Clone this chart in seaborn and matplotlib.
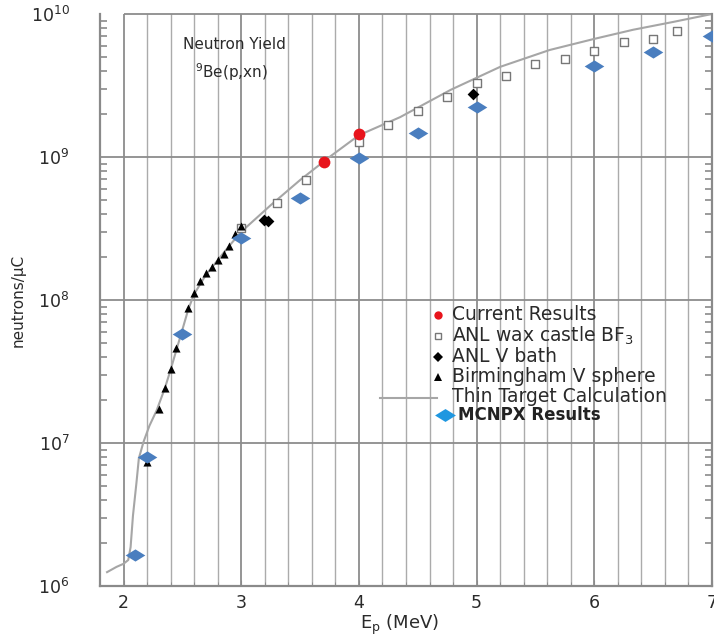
import numpy as np
import pandas as pd
import matplotlib
matplotlib.use("Agg")
import matplotlib.pyplot as plt
from matplotlib.markers import MarkerStyle
from matplotlib.ticker import FixedLocator, LogLocator, NullFormatter
import seaborn as sns

# ---------------- data ----------------
thin_E = [1.86, 1.94, 2.00, 2.04, 2.06, 2.08, 2.11, 2.13, 2.17, 2.22, 2.28, 2.35,
          2.40, 2.45, 2.50, 2.55, 2.60, 2.70, 2.80, 2.90, 3.00, 3.25, 3.50, 3.75,
          4.00, 4.35, 4.78, 5.20, 5.62, 6.00, 6.33, 6.67, 7.00]
thin_Y = [1.25e6, 1.36e6, 1.43e6, 1.52e6, 1.87e6, 3.1e6, 5.3e6, 7.8e6, 1.02e7, 1.32e7,
          1.68e7, 2.4e7, 3.25e7, 4.5e7, 6.2e7, 8.6e7, 1.1e8, 1.5e8, 1.9e8, 2.4e8,
          3.0e8, 4.6e8, 6.9e8, 1.0e9, 1.42e9, 1.9e9, 2.95e9, 4.27e9, 5.6e9, 6.7e9,
          7.76e9, 8.8e9, 1.0e10]

mcnpx_E = [2.1, 2.2, 2.5, 3.0, 3.5, 4.0, 4.5, 5.0, 6.0, 6.5, 7.0]
mcnpx_Y = [1.65e6, 7.95e6, 5.8e7, 2.7e8, 5.2e8, 9.8e8, 1.48e9, 2.24e9, 4.3e9, 5.4e9, 7.0e9]

current_E = [3.7, 4.0]
current_Y = [9.2e8, 1.45e9]

wax_E = [3.0, 3.3, 3.55, 4.0, 4.25, 4.5, 4.75, 5.0, 5.25, 5.5, 5.75, 6.0, 6.25, 6.5, 6.7]
wax_Y = [3.2e8, 4.77e8, 6.9e8, 1.27e9, 1.67e9, 2.1e9, 2.63e9, 3.29e9, 3.68e9, 4.47e9,
         4.84e9, 5.5e9, 6.4e9, 6.7e9, 7.6e9]

vbath_E = [3.19, 3.23, 4.97]
vbath_Y = [3.6e8, 3.55e8, 2.76e9]

birm_E = [2.2, 2.3, 2.35, 2.4, 2.45, 2.55, 2.6, 2.65, 2.7, 2.75, 2.8, 2.85, 2.9, 2.95, 3.0]
birm_Y = [7.4e6, 1.73e7, 2.43e7, 3.29e7, 4.6e7, 8.8e7, 1.12e8, 1.36e8, 1.55e8, 1.70e8,
          1.91e8, 2.1e8, 2.39e8, 2.9e8, 3.29e8]

x_ticks = [2, 3, 4, 5, 6, 7]
x_minor = [2.2, 2.4, 2.6, 2.8, 3.2, 3.4, 3.6, 3.8, 4.2, 4.4, 4.6, 4.8,
           5.2, 5.4, 5.6, 5.8, 6.2, 6.4, 6.6, 6.8]
y_ticks = [1e6, 1e7, 1e8, 1e9, 1e10]

legend_labels = ["Current Results", "ANL wax castle BF$_3$", "ANL V bath",
                 "Birmingham V sphere", "Thin Target Calculation", "MCNPX Results"]

# ---------------- style ----------------
plt.rcParams["font.family"] = ["DejaVu Sans"]
TXT = "#2a2a2a"
GRID_MIN = "#ababab"
GRID_MAJ = "#8c8c8c"
SPINE = "#8a8a8a"
BLUE = "#4a7ebf"
BLUE_LEG = "#1f97e0"
RED = "#e8141c"

wide_diamond = MarkerStyle([(-1, 0), (0, 0.62), (1, 0), (0, -0.62), (-1, 0)])

fig = plt.figure(figsize=(7.14, 6.36), dpi=100)
ax = fig.add_axes([100 / 714, 1 - 586 / 636, 612 / 714, 572 / 636])
ax.set_yscale("log")
ax.set_xlim(1.8, 7.0)
ax.set_ylim(1e6, 1e10)

# grid lines
for xv in x_minor:
    ax.axvline(xv, color=GRID_MIN, lw=1.0, zorder=0)
for xv in x_ticks:
    ax.axvline(xv, color=GRID_MAJ, lw=1.3, zorder=0)
for yv in y_ticks[1:-1]:
    ax.axhline(yv, color=GRID_MAJ, lw=1.3, zorder=0)
ax.hlines(1e10, 2.0, 7.0, color=GRID_MAJ, lw=1.3, zorder=0, clip_on=False)

# data
df_thin = pd.DataFrame({"E": thin_E, "Y": thin_Y})
sns.lineplot(data=df_thin, x="E", y="Y", ax=ax, color="#a6a6a6", lw=1.5,
             estimator=None, sort=False, zorder=2)

sns.scatterplot(x=wax_E, y=wax_Y, ax=ax, marker="s", s=26, facecolor="white",
                edgecolor="#777777", linewidth=1.0, zorder=3)
sns.scatterplot(x=birm_E, y=birm_Y, ax=ax, marker="^", s=34, color="black",
                edgecolor="black", linewidth=0, zorder=4)
sns.scatterplot(x=vbath_E, y=vbath_Y, ax=ax, marker="D", s=36, color="black",
                edgecolor="black", linewidth=0, zorder=4)
sns.scatterplot(x=current_E, y=current_Y, ax=ax, marker="o", s=72, color=RED,
                edgecolor=RED, linewidth=0, zorder=5)
sns.scatterplot(x=mcnpx_E, y=mcnpx_Y, ax=ax, marker=wide_diamond, s=200, color=BLUE,
                edgecolor=BLUE, linewidth=0, zorder=6)

# axes styling
for side in ["left", "bottom", "right"]:
    ax.spines[side].set_color(SPINE)
    ax.spines[side].set_linewidth(1.6)
ax.spines["top"].set_visible(False)

ax.xaxis.set_major_locator(FixedLocator(x_ticks))
ax.xaxis.set_minor_locator(FixedLocator(x_minor))
ax.yaxis.set_major_locator(FixedLocator(y_ticks))
ax.yaxis.set_minor_locator(LogLocator(base=10, subs=np.arange(2, 10)))
ax.yaxis.set_minor_formatter(NullFormatter())
ax.tick_params(axis="both", which="both", direction="in", color=SPINE)
ax.tick_params(axis="y", which="major", length=0, pad=22, labelsize=12.5, labelcolor=TXT)
ax.tick_params(axis="y", which="minor", length=5, width=1.2, right=True)
ax.tick_params(axis="x", which="major", length=4, pad=6, labelsize=12.5, labelcolor=TXT)
ax.tick_params(axis="x", which="minor", length=3)

ax.set_xlabel("E$_{\\rm p}$ (MeV)", fontsize=13, color=TXT)
ax.xaxis.set_label_coords(0.49, -0.046)
ax.set_ylabel("neutrons/\u00b5C", fontsize=11, color=TXT)
ax.yaxis.set_label_coords(-0.122, 0.5)

# annotation text
ax.text(0.136, 0.946, "Neutron Yield", transform=ax.transAxes, fontsize=11,
        color=TXT, va="center", ha="left")
ax.text(0.155, 0.899, "$^{9}$Be(p,xn)", transform=ax.transAxes, fontsize=11,
        color=TXT, va="center", ha="left")

# manual legend
def px(x, y):
    return ((x - 100) / 612, (586 - y) / 572)

kw = dict(transform=ax.transAxes, clip_on=False, zorder=7, linestyle="none")
x0, y0 = px(438, 315); ax.plot([x0], [y0], marker="o", ms=6, color=RED, mew=0, **kw)
x0, y0 = px(438, 336); ax.plot([x0], [y0], marker="s", ms=5, mfc="white", mec="#777777", mew=1, **kw)
x0, y0 = px(438, 357); ax.plot([x0], [y0], marker="D", ms=5.5, color="black", mew=0, **kw)
x0, y0 = px(438, 377); ax.plot([x0], [y0], marker="^", ms=5.5, color="black", mew=0, **kw)
xa, ya = px(380, 398); xb, _ = px(437, 398)
ax.plot([xa, xb], [ya, ya], color="#a6a6a6", lw=1.5, transform=ax.transAxes, clip_on=False, zorder=7)
x0, y0 = px(445, 415); ax.plot([x0], [y0], marker=wide_diamond, ms=15, color=BLUE_LEG, mew=0, **kw)

rows_y = [315, 336, 356, 377, 397]
for lab, yy in zip(legend_labels[:5], rows_y):
    tx, ty = px(452, yy)
    ax.text(tx, ty, lab, transform=ax.transAxes, fontsize=13.5, color=TXT,
            va="center", ha="left", zorder=8)
tx, ty = px(458, 415)
ax.text(tx, ty, legend_labels[5], transform=ax.transAxes, fontsize=12, color="#222222",
        fontweight="bold", va="center", ha="left", zorder=8)

fig.savefig("out.png", dpi=100)
